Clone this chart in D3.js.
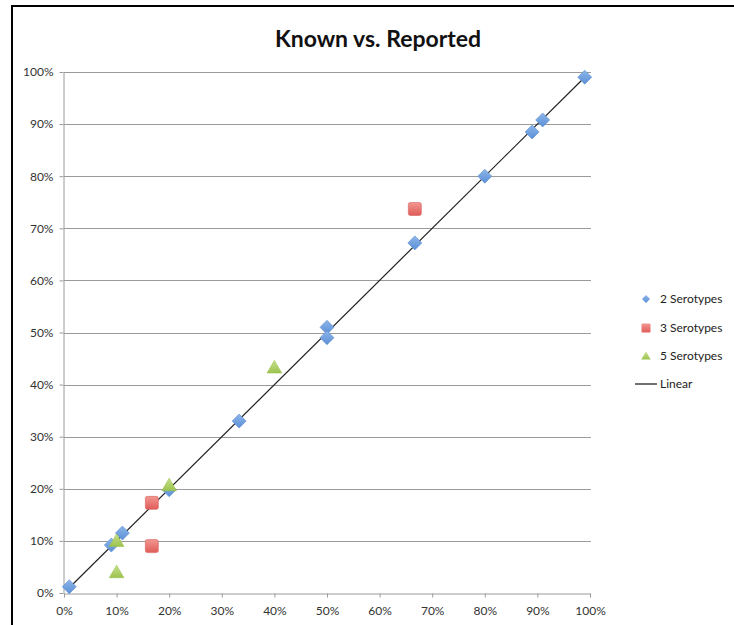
<!DOCTYPE html>
<html>
<head>
<meta charset="utf-8">
<script src="https://cdn.jsdelivr.net/npm/d3@7"></script>
<style>
  body { margin: 0; background: #fff; }
  text { font-family: Lato, "Liberation Sans", sans-serif; }
</style>
</head>
<body>
<div id="container"></div>
<script>
/* CONSTANTS AND GLOBALS */
const width = 734;
const height = 625;

/* DATA */
const seriesNames = ["2 Serotypes", "3 Serotypes", "5 Serotypes", "Linear"];
const knownTwo = [0.01, 0.09, 0.111, 0.20, 0.333, 0.50, 0.50, 0.667, 0.80, 0.89, 0.91, 0.99];
const reportedTwo = [0.012, 0.092, 0.115, 0.198, 0.33, 0.51, 0.49, 0.672, 0.80, 0.885, 0.908, 0.99];
const knownThree = [0.167, 0.167, 0.667];
const reportedThree = [0.173, 0.09, 0.737];
const knownFive = [0.10, 0.10, 0.20, 0.40];
const reportedFive = [0.10, 0.04, 0.207, 0.433];
const linearX = [0.01, 0.99];
const linearY = [0.01, 0.99];
const tickValues = [0, 0.1, 0.2, 0.3, 0.4, 0.5, 0.6, 0.7, 0.8, 0.9, 1.0];

const pts = (xs, ys) => xs.map((x, i) => ({x: x, y: ys[i]}));

/* SCALES */
const xScale = d3.scaleLinear().domain([0, 1]).range([64, 590]);
const yScale = d3.scaleLinear().domain([0, 1]).range([593, 72]);

/* SVG */
const svg = d3.select("#container")
  .append("svg")
  .attr("width", width)
  .attr("height", height);

// gradients for the glossy markers
const defs = svg.append("defs");
function grad(id, top, bottom) {
  const g = defs.append("linearGradient").attr("id", id)
    .attr("x1", 0).attr("y1", 0).attr("x2", 0).attr("y2", 1);
  g.append("stop").attr("offset", "0%").attr("stop-color", top);
  g.append("stop").attr("offset", "100%").attr("stop-color", bottom);
}
grad("gBlue", "#8db6ea", "#5b8fd6");
grad("gRed", "#f29690", "#e05c58");
grad("gGreen", "#c8e08e", "#9cc24e");

// frame (left and top edges show in the crop)
svg.append("path")
  .attr("d", "M12,640 V6 H734")
  .attr("fill", "none")
  .attr("stroke", "#000")
  .attr("stroke-width", 2);

// title
svg.append("text")
  .attr("x", 378)
  .attr("y", 47)
  .attr("text-anchor", "middle")
  .attr("font-size", 23)
  .attr("font-weight", "bold")
  .attr("fill", "#111")
  .text("Known vs. Reported");

// gridlines
svg.append("g")
  .selectAll("line")
  .data(tickValues.slice(1))
  .join("line")
  .attr("x1", xScale(0))
  .attr("x2", xScale(1) + 1)
  .attr("y1", d => Math.round(yScale(d)) + 0.5)
  .attr("y2", d => Math.round(yScale(d)) + 0.5)
  .attr("stroke", "#9a9a9a")
  .attr("stroke-width", 1);

// axes
const fmt = d3.format(".0%");
const xAxis = d3.axisBottom(xScale).tickValues(tickValues).tickFormat(fmt).tickSize(4).tickSizeOuter(0);
const yAxis = d3.axisLeft(yScale).tickValues(tickValues).tickFormat(fmt).tickSize(4).tickSizeOuter(0);

const gx = svg.append("g")
  .attr("transform", `translate(0, ${Math.round(yScale(0)) + 0.5})`)
  .call(xAxis);
const gy = svg.append("g")
  .attr("transform", `translate(${xScale(0) - 0.5}, 0)`)
  .call(yAxis);

[gx, gy].forEach(g => {
  g.select(".domain").attr("stroke", "#9a9a9a");
  g.selectAll(".tick line").attr("stroke", "#9a9a9a");
  g.selectAll(".tick text")
    .attr("font-size", 12)
    .attr("fill", "#333")
    .style("font-family", "Lato, 'Liberation Sans', sans-serif");
});
gx.selectAll(".tick text").attr("dy", "1.2em");
gy.selectAll(".tick text").attr("x", -10);

// linear line
const line = d3.line().x(d => xScale(d.x)).y(d => yScale(d.y));
svg.append("path")
  .datum(pts(linearX, linearY))
  .attr("d", line)
  .attr("fill", "none")
  .attr("stroke", "#222")
  .attr("stroke-width", 1.2);

// markers
const symDiamond = (s) => `M0,${-s} L${s},0 L0,${s} L${-s},0 Z`;
const symTriangle = (s) => `M0,${-s} L${s * 1.05},${s * 0.8} L${-s * 1.05},${s * 0.8} Z`;

svg.append("g")
  .selectAll("path")
  .data(pts(knownTwo, reportedTwo))
  .join("path")
  .attr("transform", d => `translate(${xScale(d.x)},${yScale(d.y)})`)
  .attr("d", symDiamond(7))
  .attr("fill", "url(#gBlue)")
  .attr("stroke", "#5a8ccf")
  .attr("stroke-width", 0.6);

svg.append("g")
  .selectAll("rect")
  .data(pts(knownThree, reportedThree))
  .join("rect")
  .attr("x", d => xScale(d.x) - 6.5)
  .attr("y", d => yScale(d.y) - 6.5)
  .attr("width", 13)
  .attr("height", 13)
  .attr("rx", 2)
  .attr("fill", "url(#gRed)")
  .attr("stroke", "#d9625e")
  .attr("stroke-width", 0.6);

svg.append("g")
  .selectAll("path")
  .data(pts(knownFive, reportedFive))
  .join("path")
  .attr("transform", d => `translate(${xScale(d.x)},${yScale(d.y)})`)
  .attr("d", symTriangle(7))
  .attr("fill", "url(#gGreen)")
  .attr("stroke", "#9cc24e")
  .attr("stroke-width", 0.6);

// legend
const legendY = [299, 328, 356, 384];
const legend = svg.append("g");
legend.selectAll("text")
  .data(seriesNames)
  .join("text")
  .attr("x", 660)
  .attr("y", (d, i) => legendY[i] + 4)
  .attr("font-size", 12)
  .attr("fill", "#222")
  .text(d => d);

legend.append("path")
  .attr("transform", `translate(646,${legendY[0]})`)
  .attr("d", symDiamond(4))
  .attr("fill", "url(#gBlue)");
legend.append("rect")
  .attr("x", 641.5).attr("y", legendY[1] - 4.5)
  .attr("width", 9).attr("height", 9).attr("rx", 1)
  .attr("fill", "url(#gRed)");
legend.append("path")
  .attr("transform", `translate(646,${legendY[2]})`)
  .attr("d", symTriangle(4.5))
  .attr("fill", "url(#gGreen)");
legend.append("line")
  .attr("x1", 635).attr("x2", 657)
  .attr("y1", legendY[3]).attr("y2", legendY[3])
  .attr("stroke", "#111").attr("stroke-width", 1.2);
</script>
</body>
</html>
